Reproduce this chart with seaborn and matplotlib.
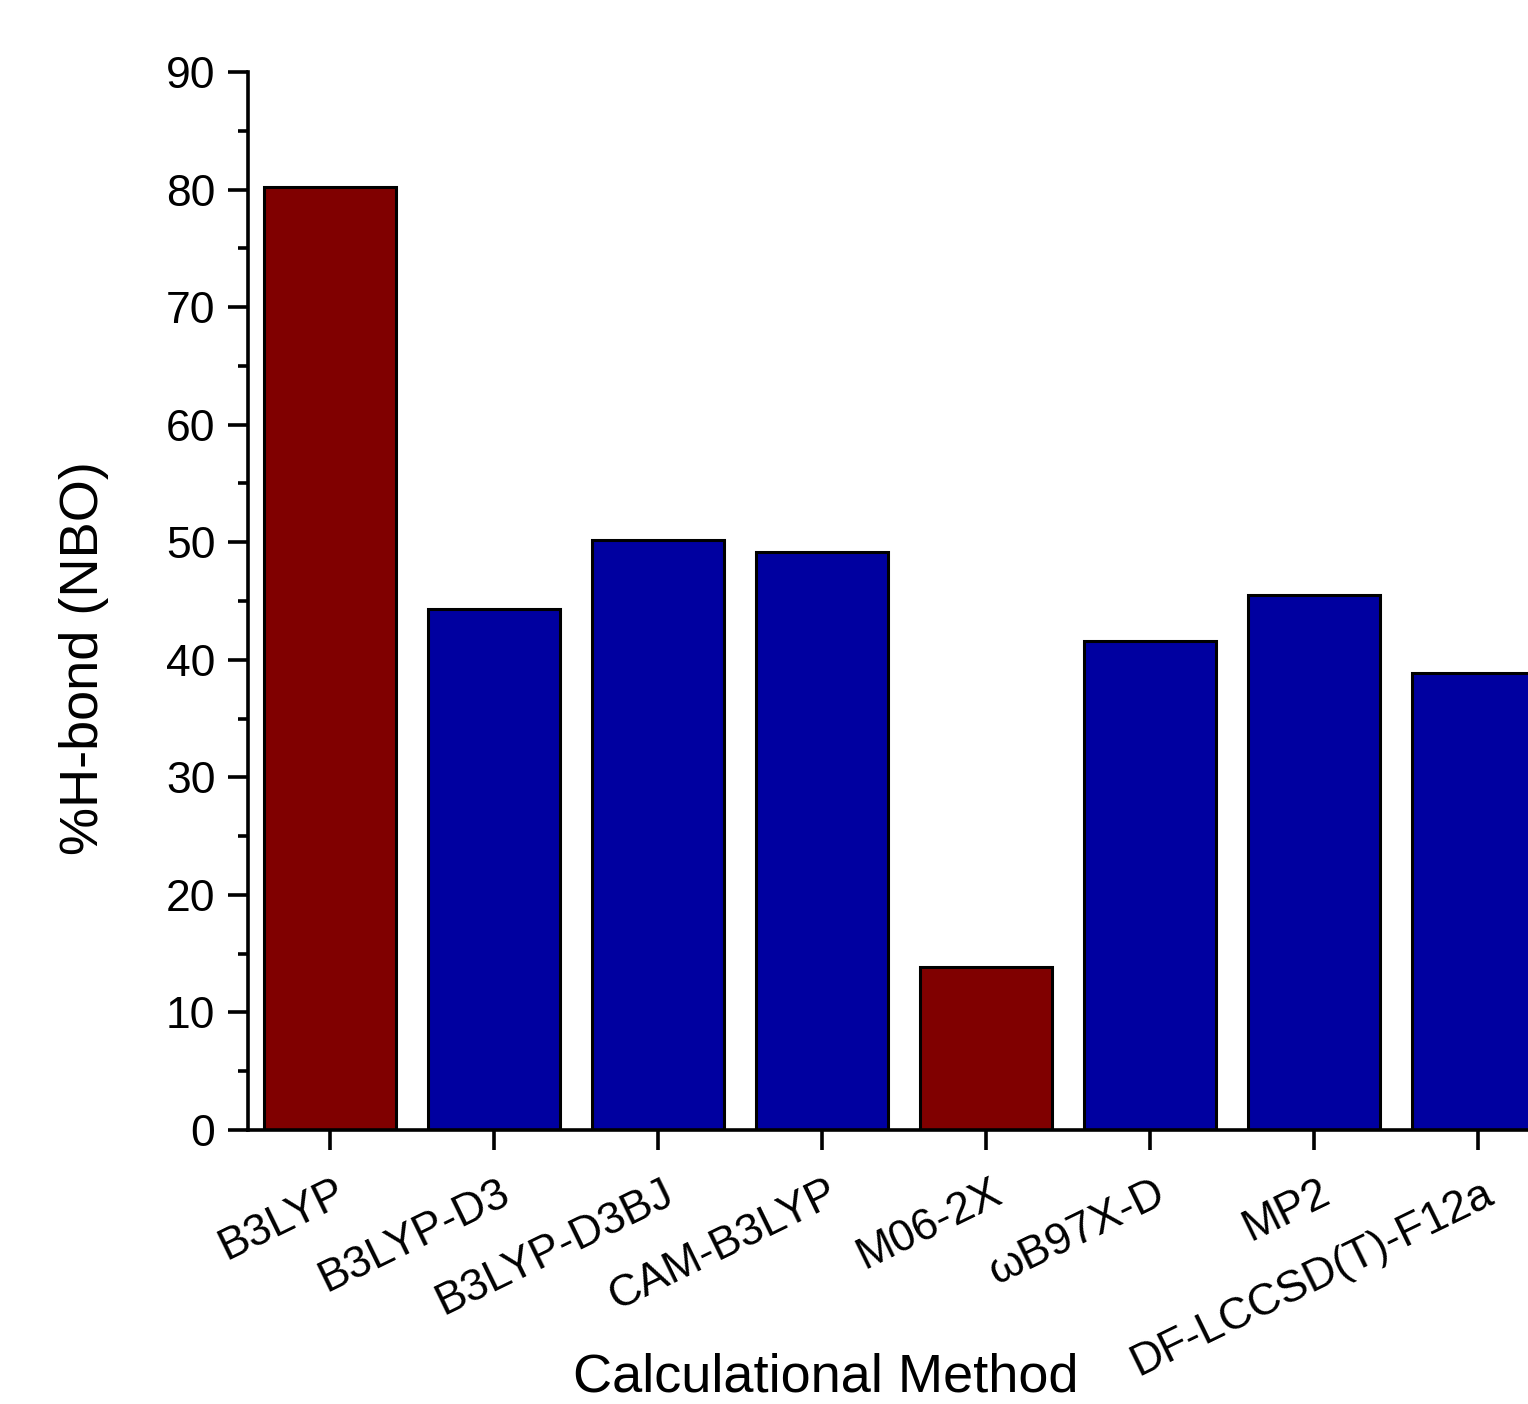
import matplotlib
matplotlib.use("Agg")
import matplotlib.pyplot as plt
import matplotlib.transforms as mtransforms
from matplotlib.ticker import MultipleLocator
import seaborn as sns

methods = ["B3LYP", "B3LYP-D3", "B3LYP-D3BJ", "CAM-B3LYP", "M06-2X",
           "\u03c9B97X-D", "MP2", "DF-LCCSD(T)-F12a"]
values = [80.2, 44.3, 50.2, 49.2, 13.9, 41.6, 45.5, 38.9]
bar_colors = ["#800000", "#0000A0", "#0000A0", "#0000A0", "#800000",
              "#0000A0", "#0000A0", "#0000A0"]

sns.set_theme(style="ticks")
plt.rcParams["font.family"] = ["Liberation Sans", "DejaVu Sans"]
plt.rcParams["text.color"] = "black"
plt.rcParams["axes.labelcolor"] = "black"

fig = plt.figure(figsize=(15.28, 14.04), dpi=100)
ax = fig.add_axes([248/1528, 1 - 1130/1404, 1312/1528, 1058/1404])

sns.barplot(x=methods, y=values, hue=methods, palette=bar_colors,
            legend=False, saturation=1, width=0.8, edgecolor="black",
            linewidth=2.2, ax=ax)

ax.set_xlim(-0.5, 7.5)
ax.set_ylim(0, 90)
ax.yaxis.set_major_locator(MultipleLocator(10))
ax.yaxis.set_minor_locator(MultipleLocator(5))

for side in ["top", "right"]:
    ax.spines[side].set_visible(False)
for side in ["left", "bottom"]:
    ax.spines[side].set_linewidth(2.6)
    ax.spines[side].set_color("black")

ax.tick_params(axis="both", which="major", direction="out", length=14.5,
               width=2.6, color="black", labelsize=32, labelcolor="black")
ax.tick_params(axis="y", which="minor", direction="out", length=7.5,
               width=2.6, color="black")
ax.tick_params(axis="y", which="major", pad=9)
ax.tick_params(axis="x", which="major", pad=16)

offset = mtransforms.ScaledTranslation(22/100, 0, fig.dpi_scale_trans)
for lbl in ax.get_xticklabels():
    lbl.set_rotation(26)
    lbl.set_ha("right")
    lbl.set_va("top")
    lbl.set_transform(lbl.get_transform() + offset)

ax.set_xlabel("Calculational Method", fontsize=39, color="black")
ax.xaxis.label.set_va("baseline")
ax.xaxis.set_label_coords((826 - 248) / 1312, (1130 - 1391) / 1058)

ax.set_ylabel("%H-bond (NBO)", fontsize=39, color="black")
ax.yaxis.label.set_va("center")
ax.yaxis.set_label_coords((84 - 248) / 1312, (1130 - 658) / 1058)

fig.savefig("out.png", dpi=100)
